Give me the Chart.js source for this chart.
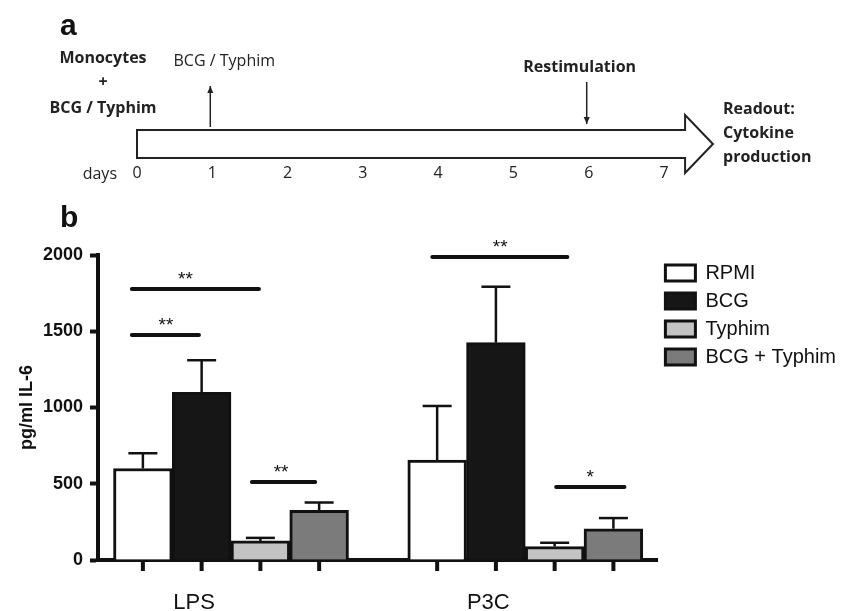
<!DOCTYPE html>
<html>
<head>
<meta charset="utf-8">
<script src="https://cdn.jsdelivr.net/npm/chart.js@4.4.1/dist/chart.umd.min.js"></script>
<style>
    html, body { margin: 0; padding: 0; background: #fff; }
    #wrap { position: relative; width: 856px; height: 611px; }
    canvas { position: absolute; left: 0; top: 0; }
</style>
</head>
<body>
<div id="wrap">
    <canvas id="barChart" width="856" height="611"></canvas>
    <canvas id="timeline" width="856" height="200"></canvas>
</div>
<script>
// Panel b data (pg/ml IL-6, mean + SEM)
const groups = ['LPS', 'P3C'];
const seriesNames = ['RPMI', 'BCG', 'Typhim', 'BCG + Typhim'];
const rpmiValues = [600, 655];
const bcgValues = [1100, 1425];
const typhimValues = [125, 88];
const bcgTyphimValues = [325, 205];
const rpmiSem = [100, 355];
const bcgSem = [210, 367];
const typhimSem = [20, 25];
const bcgTyphimSem = [52, 70];
const yTicks = [0, 500, 1000, 1500, 2000];

// Significance bars (x in group units, y in pg/ml)
const sigLabels = ['**', '**', '**', '**', '*'];
const sigStart = [-0.337, -0.337, 0.071, 0.684, 1.105];
const sigEnd = [0.095, -0.109, 0.286, 1.143, 1.337];
const sigLabelX = [-0.155, -0.221, 0.170, 0.915, 1.221];
const sigLevel = [1777, 1475, 511, 1987, 479];

// Panel a timeline
const dayMax = 7;
const eventDays = [1, 6];
const eventLabels = ['BCG / Typhim', 'Restimulation'];
const eventDirs = ['up', 'down'];
const startLabel = ['Monocytes', '+', 'BCG / Typhim'];
const readoutLabel = ['Readout:', 'Cytokine', 'production'];

const seriesValues = [rpmiValues, bcgValues, typhimValues, bcgTyphimValues];
const seriesSem = [rpmiSem, bcgSem, typhimSem, bcgTyphimSem];
const fills = ['#ffffff', '#161616', '#c3c3c3', '#7b7b7b'];
const ink = '#111';
const arial = "'Liberation Sans', Arial, sans-serif";
const calibri = "'Open Sans', sans-serif";

function line(ctx, x1, y1, x2, y2, w, cap) {
    ctx.beginPath();
    ctx.lineWidth = w;
    ctx.lineCap = cap || 'butt';
    ctx.moveTo(x1, y1);
    ctx.lineTo(x2, y2);
    ctx.stroke();
}

// error bars, x tick marks, significance bars, panel letter
const barExtras = {
    id: 'barExtras',
    afterDatasetsDraw(chart) {
        const ctx = chart.ctx;
        const xs = chart.scales.x, ys = chart.scales.y;
        const bottom = chart.chartArea.bottom;
        ctx.save();
        ctx.strokeStyle = ink;
        ctx.fillStyle = ink;
        seriesValues.forEach((vals, k) => {
            const meta = chart.getDatasetMeta(k);
            meta.data.forEach((bar, i) => {
                const yTop = ys.getPixelForValue(vals[i] + seriesSem[k][i]);
                line(ctx, bar.x, bar.y, bar.x, yTop, 2.5);
                line(ctx, bar.x - 14.5, yTop, bar.x + 14.5, yTop, 2.5);
                line(ctx, bar.x, bottom, bar.x, bottom + 11, 4);
            });
        });
        sigLabels.forEach((lab, i) => {
            const y = ys.getPixelForValue(sigLevel[i]);
            line(ctx, xs.getPixelForValue(sigStart[i]), y, xs.getPixelForValue(sigEnd[i]), y, 4, 'round');
            ctx.font = '19px ' + arial;
            ctx.textAlign = 'center';
            ctx.textBaseline = 'alphabetic';
            ctx.fillText(lab, xs.getPixelForValue(sigLabelX[i]), y - 4);
        });
        ctx.font = 'bold 30px ' + arial;
        ctx.textAlign = 'left';
        ctx.fillText('b', 60, 227);
        ctx.restore();
    }
};

new Chart(document.getElementById('barChart'), {
    type: 'bar',
    data: {
        datasets: seriesNames.map((name, k) => ({
            label: name,
            data: groups.map((g, i) => ({ x: i, y: seriesValues[k][i] })),
            backgroundColor: fills[k],
            borderColor: ink,
            borderWidth: 3,
            borderSkipped: 'start',
            barThickness: 58.75
        }))
    },
    options: {
        responsive: false,
        animation: false,
        layout: { padding: { top: 255, left: 0, right: 10, bottom: 0 } },
        plugins: {
            tooltip: { enabled: false },
            legend: {
                position: 'right',
                align: 'start',
                fullSize: false,
                labels: {
                    boxWidth: 30,
                    boxHeight: 16,
                    padding: 8,
                    color: ink,
                    font: { family: arial, size: 20 }
                }
            }
        },
        scales: {
            x: {
                type: 'linear',
                min: -0.452,
                max: 1.449,
                offset: false,
                grid: { display: false, drawTicks: false },
                border: { display: true, width: 4, color: ink },
                afterBuildTicks: s => { s.ticks = groups.map((g, i) => ({ value: i })); },
                ticks: {
                    callback: v => groups[v],
                    labelOffset: -37,
                    padding: 30,
                    autoSkip: false,
                    maxRotation: 0,
                    color: ink,
                    font: { family: arial, size: 22 }
                },
                afterFit: s => { s.height = 51; }
            },
            y: {
                min: 0,
                max: 2000,
                afterBuildTicks: s => { s.ticks = yTicks.map(v => ({ value: v })); },
                ticks: {
                    callback: v => String(v),
                    padding: 7,
                    color: ink,
                    font: { family: arial, size: 18, weight: 'bold' }
                },
                grid: { drawOnChartArea: false, tickLength: 8, tickWidth: 4, tickColor: ink },
                border: { width: 4, color: ink },
                title: {
                    display: true,
                    text: 'pg/ml IL-6',
                    color: ink,
                    padding: { top: 16, bottom: 0 },
                    font: { family: arial, size: 18, weight: 'bold' }
                },
                afterFit: s => { s.width = 98; }
            }
        }
    },
    plugins: [barExtras]
});

// timeline arrow, event arrows and labels
const arrowHeadStart = 7.28;
const arrowTip = 7.65;
const timelineDraw = {
    id: 'timelineDraw',
    afterDraw(chart) {
        const ctx = chart.ctx;
        const xs = chart.scales.x;
        const { top, bottom } = chart.chartArea;
        const mid = (top + bottom) / 2;
        const x0 = xs.getPixelForValue(0);
        const xh = xs.getPixelForValue(arrowHeadStart);
        const xt = xs.getPixelForValue(arrowTip);
        ctx.save();
        ctx.strokeStyle = '#222';
        ctx.fillStyle = '#222';
        ctx.lineWidth = 2;
        ctx.lineJoin = 'miter';
        ctx.beginPath();
        ctx.moveTo(x0, top);
        ctx.lineTo(xh, top);
        ctx.lineTo(xh, top - 15);
        ctx.lineTo(xt, mid);
        ctx.lineTo(xh, bottom + 15);
        ctx.lineTo(xh, bottom);
        ctx.lineTo(x0, bottom);
        ctx.closePath();
        ctx.stroke();

        eventDays.forEach((d, i) => {
            const x = xs.getPixelForValue(d) - 2;
            const up = eventDirs[i] === 'up';
            const y1 = up ? top - 3 : 82;
            const y2 = up ? 86 : top - 6;
            line(ctx, x, y1, x, y2, 1.5);
            const dir = up ? 1 : -1;
            ctx.beginPath();
            ctx.moveTo(x, y2);
            ctx.lineTo(x - 3, y2 + dir * 7);
            ctx.lineTo(x + 3, y2 + dir * 7);
            ctx.closePath();
            ctx.fill();
            ctx.font = (up ? '' : 'bold ') + '16px ' + calibri;
            ctx.textAlign = 'center';
            ctx.textBaseline = 'middle';
            ctx.fillText(eventLabels[i], x + (up ? 14 : -7), up ? 61 : 67);
        });

        ctx.font = 'bold 16px ' + calibri;
        ctx.textAlign = 'center';
        ctx.textBaseline = 'middle';
        startLabel.forEach((t, i) => ctx.fillText(t, 103, [58, 82, 108][i]));
        ctx.textAlign = 'left';
        readoutLabel.forEach((t, i) => ctx.fillText(t, 723, 109 + i * 24));

        ctx.font = '16px ' + calibri;
        ctx.textAlign = 'right';
        ctx.fillText('days', 117, 174);

        ctx.font = 'bold 30px ' + arial;
        ctx.textAlign = 'left';
        ctx.textBaseline = 'alphabetic';
        ctx.fillStyle = ink;
        ctx.fillText('a', 60, 35);
        ctx.restore();
    }
};

new Chart(document.getElementById('timeline'), {
    type: 'scatter',
    data: { datasets: [] },
    options: {
        responsive: false,
        animation: false,
        layout: { padding: { top: 130, left: 137, right: 192, bottom: 0 } },
        plugins: { legend: { display: false }, tooltip: { enabled: false } },
        scales: {
            x: {
                type: 'linear',
                min: 0,
                max: dayMax,
                grid: { display: false, drawTicks: false },
                border: { display: false },
                ticks: { stepSize: 1, padding: 6, color: '#222', font: { family: calibri, size: 16 } },
                afterFit: s => { s.height = 42; }
            },
            y: { display: false, min: 0, max: 1 }
        }
    },
    plugins: [timelineDraw]
});
</script>
</body>
</html>
